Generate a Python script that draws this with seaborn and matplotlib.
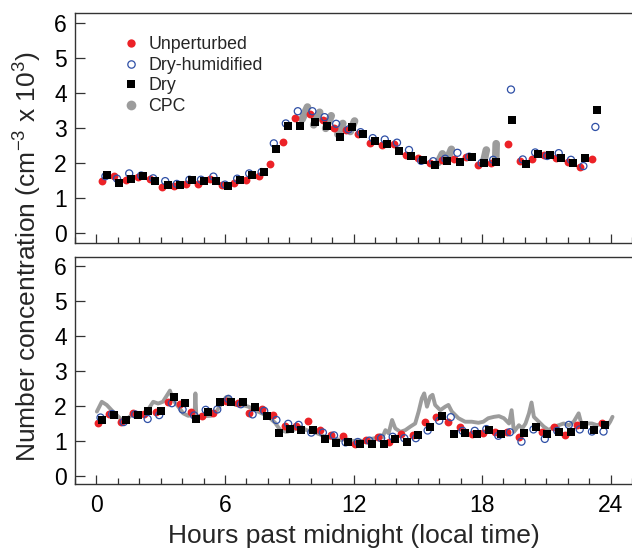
import numpy as np
import pandas as pd
import matplotlib
matplotlib.use("Agg")
import matplotlib.pyplot as plt
from matplotlib.lines import Line2D
from matplotlib.ticker import MultipleLocator
import seaborn as sns

sns.set_style("ticks")
plt.rcParams['font.family'] = ['Liberation Sans', 'DejaVu Sans']
plt.rcParams['mathtext.fontset'] = 'custom'
plt.rcParams['mathtext.rm'] = 'Liberation Sans'
plt.rcParams['mathtext.it'] = 'Liberation Sans:italic'
plt.rcParams['mathtext.bf'] = 'Liberation Sans:bold'

# ---- top panel: hours and number concentration (x 10^3 cm^-3) ----
unpert_top_t = [0.26, 0.81, 1.38, 1.92, 2.48, 3.07, 3.63, 4.20, 4.76, 5.30, 5.88, 6.43, 7.00, 7.58,
                8.12, 8.70, 9.26, 9.99, 10.57, 11.07, 11.66, 12.20, 12.78, 13.32, 13.88, 14.45, 15.00,
                15.56, 16.15, 16.71, 17.27, 17.83, 18.40, 19.21, 19.77, 20.32, 20.88, 21.45, 22.00,
                22.57, 23.13]
unpert_top_v = [1.48, 1.62, 1.50, 1.60, 1.55, 1.30, 1.35, 1.40, 1.40, 1.55, 1.37, 1.43, 1.50, 1.62,
                1.97, 2.60, 3.28, 3.39, 3.23, 3.00, 2.94, 2.83, 2.56, 2.51, 2.54, 2.24, 2.14,
                2.00, 2.08, 2.12, 2.16, 1.95, 2.00, 2.53, 2.06, 2.12, 2.24, 2.14, 2.02,
                1.87, 2.12]

dryhum_top_t = [0.42, 0.96, 1.53, 2.09, 2.65, 3.21, 3.75, 4.34, 4.88, 5.46, 6.00, 6.57, 7.13, 7.71,
                8.28, 8.84, 9.40, 10.08, 10.65, 11.19, 11.77, 12.33, 12.90, 13.46, 14.03, 14.59, 15.16,
                15.72, 16.28, 16.85, 17.40, 17.98, 18.52, 19.35, 19.90, 20.48, 21.04, 21.58, 22.15,
                22.73, 23.29]
dryhum_top_v = [1.62, 1.55, 1.70, 1.64, 1.56, 1.48, 1.40, 1.52, 1.52, 1.61, 1.38, 1.55, 1.70, 1.74,
                2.56, 3.13, 3.48, 3.48, 3.31, 3.12, 2.96, 2.88, 2.71, 2.67, 2.58, 2.37, 2.06,
                2.05, 2.12, 2.29, 2.18, 2.00, 2.09, 4.10, 2.10, 2.30, 2.20, 2.28, 2.09,
                1.91, 3.03]

dry_top_t = [0.50, 1.05, 1.61, 2.17, 2.73, 3.33, 3.90, 4.45, 5.02, 5.57, 6.12, 6.70, 7.26, 7.81,
             8.37, 8.96, 9.52, 10.19, 10.78, 11.35, 11.92, 12.45, 13.02, 13.58, 14.14, 14.70, 15.25,
             15.81, 16.37, 16.96, 17.52, 18.08, 18.64, 19.42, 20.03, 20.59, 21.15, 21.70, 22.26,
             22.82, 23.38]
dry_top_v = [1.65, 1.43, 1.55, 1.62, 1.48, 1.36, 1.36, 1.50, 1.48, 1.48, 1.33, 1.50, 1.65, 1.73,
             2.41, 3.05, 3.05, 3.17, 3.07, 2.73, 3.04, 2.84, 2.64, 2.55, 2.35, 2.21, 2.08,
             1.95, 2.06, 2.03, 2.18, 2.00, 2.03, 3.24, 1.98, 2.27, 2.23, 2.15, 2.00,
             2.15, 3.52]

# CPC only sampled in short bursts on the top panel (start / end of each burst)
cpc_top_t0 = [9.60, 10.14, 10.70, 11.27, 11.85, 15.95, 16.37, 18.10, 18.64]
cpc_top_v0 = [3.25, 3.09, 2.99, 2.82, 2.90, 2.01, 2.09, 2.10, 2.10]
cpc_top_t1 = [9.85, 10.42, 10.96, 11.50, 12.05, 16.15, 16.57, 18.20, 18.66]
cpc_top_v1 = [3.60, 3.45, 3.35, 3.13, 3.20, 2.26, 2.39, 2.37, 2.55]

# ---- bottom panel ----
unpert_bot_t = [0.06, 0.60, 1.16, 1.69, 2.20, 2.78, 3.36, 3.88, 4.42, 4.95, 5.46, 6.03, 6.59, 7.12,
                7.71, 8.25, 8.79, 9.33, 9.88, 10.42, 10.96, 11.50, 12.05, 12.59, 13.13, 13.67, 14.22,
                14.76, 15.35, 15.87, 16.42, 16.97, 17.52, 18.06, 18.60, 19.15, 19.72, 20.81, 21.35,
                21.89, 22.43, 23.60]
unpert_bot_v = [1.52, 1.76, 1.55, 1.81, 1.76, 1.82, 2.12, 2.05, 1.84, 1.72, 1.81, 2.14, 2.08, 1.81,
                1.90, 1.75, 1.44, 1.44, 1.57, 1.30, 1.17, 1.15, 0.91, 1.03, 1.12, 0.96, 1.20,
                1.17, 1.54, 1.69, 1.53, 1.41, 1.20, 1.22, 1.25, 1.27, 1.10, 1.27, 1.41,
                1.17, 1.46, 1.50]

dryhum_bot_t = [0.19, 0.73, 1.27, 1.81, 2.39, 2.93, 3.52, 4.02, 4.56, 5.10, 5.64, 6.16, 6.74, 7.29,
                7.83, 8.40, 8.95, 9.44, 10.03, 10.57, 11.09, 11.63, 12.20, 12.74, 13.29, 13.83, 14.37,
                14.91, 15.46, 16.00, 16.54, 17.09, 17.66, 18.20, 18.76, 19.30, 19.84, 20.40, 20.93,
                21.51, 22.05, 22.56, 23.13, 23.67]
dryhum_bot_v = [1.67, 1.77, 1.54, 1.76, 1.63, 1.74, 2.08, 1.90, 1.73, 1.89, 1.90, 2.20, 2.05, 1.76,
                1.86, 1.60, 1.49, 1.46, 1.24, 1.24, 1.16, 0.96, 0.97, 1.01, 1.08, 1.12, 1.08,
                1.08, 1.30, 1.58, 1.68, 1.29, 1.29, 1.34, 1.15, 1.25, 0.98, 1.33, 1.06,
                1.29, 1.46, 1.33, 1.27, 1.27]

dry_bot_t = [0.26, 0.81, 1.38, 1.94, 2.43, 3.02, 3.60, 4.12, 4.64, 5.19, 5.77, 6.28, 6.82, 7.40,
             7.94, 8.51, 9.02, 9.57, 10.11, 10.65, 11.19, 11.74, 12.31, 12.84, 13.40, 13.94, 14.50,
             15.00, 15.57, 16.12, 16.68, 17.21, 17.75, 18.33, 18.87, 19.96, 20.50, 21.01, 21.58,
             22.13, 22.75, 23.21, 23.72]
dry_bot_v = [1.60, 1.74, 1.60, 1.75, 1.87, 1.87, 2.27, 2.08, 1.62, 1.84, 2.10, 2.12, 2.12, 1.96,
             1.70, 1.24, 1.34, 1.31, 1.31, 1.06, 0.95, 0.98, 0.91, 0.90, 0.91, 1.06, 0.98,
             1.18, 1.41, 1.72, 1.20, 1.24, 1.20, 1.30, 1.20, 1.24, 1.41, 1.20, 1.27,
             1.27, 1.46, 1.31, 1.46]

cpc_bot_t = [0.02, 0.25, 0.48, 0.71, 0.95, 1.18, 1.41, 1.64, 1.95, 2.26, 2.50, 2.65, 2.88, 3.10,
             3.35, 3.43, 3.58, 3.82, 4.05, 4.28, 4.50, 4.58, 4.62, 4.66, 4.74, 5.05, 5.36, 5.60,
             5.83, 6.05, 6.17, 6.48, 6.79, 7.10, 7.41, 7.72, 8.03, 8.34, 8.58, 8.88, 9.19, 9.50,
             9.81, 10.12, 10.43, 10.74, 11.05, 11.36, 11.67, 11.98, 12.21, 12.40, 12.72, 13.02,
             13.26, 13.35, 13.49, 13.64, 13.80, 13.95, 14.19, 14.42, 14.65, 14.88, 15.04, 15.19,
             15.30, 15.43, 15.58, 15.69, 15.81, 16.05, 16.28, 16.43, 16.59, 16.90, 17.21, 17.52,
             17.83, 18.06, 18.29, 18.56, 18.79, 19.02, 19.26, 19.38, 19.49, 19.72, 19.88, 20.03,
             20.19, 20.31, 20.42, 20.65, 20.88, 21.12, 21.35, 21.58, 21.81, 22.05, 22.28, 22.51,
             22.67, 22.90, 23.13, 23.37, 23.60, 23.83, 23.98, 24.09]
cpc_bot_v = [1.84, 2.12, 2.03, 1.88, 1.74, 1.60, 1.62, 1.74, 1.79, 1.74, 1.98, 2.12, 2.07, 2.12,
             2.36, 2.44, 2.17, 1.98, 1.79, 1.72, 1.74, 1.72, 2.36, 1.72, 1.71, 1.71, 1.72, 1.84,
             2.07, 2.25, 2.27, 2.03, 2.03, 1.98, 1.88, 1.79, 1.69, 1.52, 1.31, 1.26, 1.31, 1.41,
             1.31, 1.26, 1.19, 1.10, 1.08, 1.03, 1.05, 1.00, 1.02, 1.00, 1.05, 1.08,
             1.17, 1.10, 1.31, 1.22, 1.60, 1.36, 1.26, 1.31, 1.41, 1.50, 1.84, 2.22,
             2.36, 1.98, 2.27, 2.32, 2.03, 1.88, 1.98, 2.03, 1.84, 1.65, 1.55, 1.55,
             1.52, 1.55, 1.65, 1.69, 1.71, 1.65, 1.50, 1.88, 1.26, 1.45, 1.36, 1.50,
             1.79, 2.10, 1.69, 1.55, 1.41, 1.31, 1.41, 1.45, 1.50, 1.45, 1.55, 1.79,
             1.41, 1.50, 1.50, 1.45, 1.50, 1.41, 1.55, 1.69]

red = '#ec2227'
blue = '#2e4fa6'
gray = '#9c9c9c'
spine_col = '#333333'

fig = plt.figure(figsize=(6.32, 5.49), dpi=100)
ax_top = fig.add_axes([0.1187, 0.5574, 0.8813, 0.4189])
ax_bot = fig.add_axes([0.1187, 0.1184, 0.8813, 0.4135])


def draw_points(ax, ut, uv, ht, hv, dt, dv):
    sns.scatterplot(x=ut, y=uv, ax=ax, color=red, marker='o', s=32, linewidth=0, legend=False, zorder=3)
    sns.scatterplot(x=ht, y=hv, ax=ax, marker='o', s=26, facecolor='none', edgecolor=blue,
                    linewidth=0.9, legend=False, zorder=4)
    sns.scatterplot(x=dt, y=dv, ax=ax, color='black', marker='s', s=26, linewidth=0, legend=False, zorder=5)


# top panel: CPC bursts drawn as short thick strokes
seg = pd.DataFrame({
    't': cpc_top_t0 + cpc_top_t1,
    'v': cpc_top_v0 + cpc_top_v1,
    'burst': list(range(len(cpc_top_t0))) * 2,
})
sns.lineplot(data=seg, x='t', y='v', units='burst', estimator=None, ax=ax_top, color=gray,
             lw=5.5, solid_capstyle='round', legend=False, zorder=2)
draw_points(ax_top, unpert_top_t, unpert_top_v, dryhum_top_t, dryhum_top_v, dry_top_t, dry_top_v)

# bottom panel: continuous CPC trace
sns.lineplot(x=cpc_bot_t, y=cpc_bot_v, ax=ax_bot, color=gray, lw=2.8, estimator=None,
             sort=False, zorder=2)
draw_points(ax_bot, unpert_bot_t, unpert_bot_v, dryhum_bot_t, dryhum_bot_v, dry_bot_t, dry_bot_v)

for ax, ylim in [(ax_top, (-0.29, 6.29)), (ax_bot, (-0.23, 6.26))]:
    ax.set_xlim(-1, 25)
    ax.set_ylim(*ylim)
    ax.xaxis.set_major_locator(MultipleLocator(6))
    ax.xaxis.set_minor_locator(MultipleLocator(1))
    ax.yaxis.set_major_locator(MultipleLocator(1))
    ax.tick_params(axis='both', which='both', direction='in', color=spine_col, width=0.9,
                   labelsize=16.5, labelcolor='black')
    ax.tick_params(axis='y', which='major', length=7.5, pad=6)
    ax.tick_params(axis='x', which='major', length=6.5, pad=7)
    ax.tick_params(axis='x', which='minor', length=4)
    ax.spines['right'].set_visible(False)
    for s in ['left', 'bottom', 'top']:
        ax.spines[s].set_color(spine_col)
        ax.spines[s].set_linewidth(1.0)
    ax.set_xlabel('')
    ax.set_ylabel('')

ax_top.tick_params(axis='x', labelbottom=False)
ax_bot.set_xlabel('Hours past midnight (local time)', fontsize=19, labelpad=5)

fig.text(28 / 632, 1 - 257 / 549, 'Number concentration (cm$^{-3}$ x 10$^{3}$)',
         rotation=90, ha='center', va='center', fontsize=19)

handles = [
    Line2D([], [], ls='none', marker='o', ms=6, mfc=red, mec=red, mew=0),
    Line2D([], [], ls='none', marker='o', ms=5.3, mfc='none', mec=blue, mew=0.9),
    Line2D([], [], ls='none', marker='s', ms=5.3, mfc='black', mec='black', mew=0),
    Line2D([], [], ls='none', marker='o', ms=7, mfc=gray, mec=gray, mew=0),
]
labels = ['Unperturbed', 'Dry-humidified', 'Dry', 'CPC']
ax_top.legend(handles, labels, loc='upper left', bbox_to_anchor=(0.068, 0.937), frameon=False,
              fontsize=12.8, handlelength=1.0, handletextpad=0.5, labelspacing=0.2, borderpad=0)

plt.savefig('out.png', dpi=100)
